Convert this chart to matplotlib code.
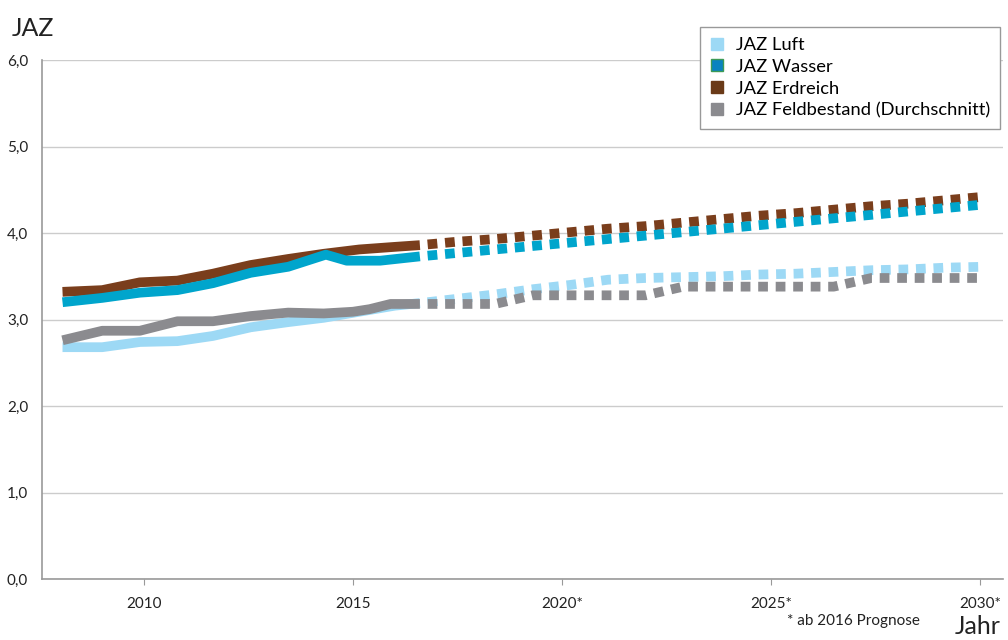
import matplotlib.pyplot as plt
from matplotlib.lines import Line2D

plt.rcParams['font.family'] = ['Lato', 'DejaVu Sans']

# measured data (JAZ = Jahresarbeitszahl)
years_hist = [2008.05, 2009.0, 2009.9, 2010.8, 2011.65, 2012.55, 2013.45, 2014.3, 2015.15, 2016.0, 2016.6]
years_blue_hist = [2008.05, 2009.0, 2009.9, 2010.8, 2011.65, 2012.55, 2013.45, 2014.35, 2014.85, 2015.65, 2016.6]
years_gray_hist = [2008.05, 2009.0, 2009.9, 2010.8, 2011.65, 2012.55, 2013.45, 2014.3, 2015.0, 2015.4, 2015.9, 2016.6]
years_prog = [2016.6, 2017.5, 2018.4, 2019.3, 2020.2, 2021.1, 2022.0, 2022.9, 2023.8,
              2024.7, 2025.6, 2026.5, 2027.4, 2028.3, 2029.2, 2030.1]

luft_hist = [2.68, 2.68, 2.74, 2.75, 2.81, 2.91, 2.97, 3.02, 3.09, 3.16, 3.19]
luft_prog = [3.19, 3.24, 3.29, 3.35, 3.40, 3.46, 3.48, 3.49, 3.50, 3.52, 3.53, 3.55, 3.57, 3.58, 3.60, 3.61]

wasser_hist = [3.20, 3.25, 3.31, 3.34, 3.42, 3.54, 3.61, 3.75, 3.68, 3.68, 3.73]
wasser_prog = [3.73, 3.77, 3.81, 3.85, 3.89, 3.93, 3.97, 4.01, 4.05, 4.09, 4.13, 4.17, 4.21, 4.25, 4.29, 4.33]

erdreich_hist = [3.32, 3.34, 3.43, 3.45, 3.53, 3.63, 3.70, 3.76, 3.81, 3.84, 3.86]
erdreich_prog = [3.86, 3.90, 3.93, 3.97, 4.01, 4.05, 4.08, 4.12, 4.16, 4.20, 4.23, 4.27, 4.31, 4.34, 4.38, 4.42]

feld_hist = [2.76, 2.87, 2.87, 2.98, 2.98, 3.04, 3.08, 3.07, 3.09, 3.12, 3.18, 3.18]
feld_prog = [3.18, 3.18, 3.18, 3.28, 3.28, 3.28, 3.28, 3.38, 3.38, 3.38, 3.38, 3.38, 3.48, 3.48, 3.48, 3.48]

xticks = [2010, 2015, 2020, 2025, 2030]
xticklabels = ['2010', '2015', '2020*', '2025*', '2030*']
yticks = [0, 1, 2, 3, 4, 5, 6]

c_luft = '#9dd9f5'
c_wasser = '#00a5cc'
c_erd = '#7a3e1c'
c_feld = '#8b8b8f'

fig = plt.figure(figsize=(10.08, 6.4), dpi=100)
ax = fig.add_axes([0.0417, 0.0953, 0.9533, 0.8109])

lw = 7.0
dash = (1.0, (1.0, 0.8))

# order: brown under blue, light blue under gray
ax.plot(years_hist, erdreich_hist, color=c_erd, lw=lw, solid_capstyle='butt', zorder=3)
ax.plot(years_prog, erdreich_prog, color=c_erd, lw=lw, ls=dash, dash_capstyle='butt', zorder=3)
ax.plot(years_blue_hist, wasser_hist, color=c_wasser, lw=lw, solid_capstyle='butt', zorder=4)
ax.plot(years_prog, wasser_prog, color=c_wasser, lw=lw, ls=dash, dash_capstyle='butt', zorder=4)
ax.plot(years_hist, luft_hist, color=c_luft, lw=lw, solid_capstyle='butt', zorder=5)
ax.plot(years_prog, luft_prog, color=c_luft, lw=lw, ls=dash, dash_capstyle='butt', zorder=5)
ax.plot(years_gray_hist, feld_hist, color=c_feld, lw=lw, solid_capstyle='butt', zorder=6)
ax.plot(years_prog, feld_prog, color=c_feld, lw=lw, ls=dash, dash_capstyle='butt', zorder=6)

ax.set_xlim(2007.56, 2030.55)
ax.set_ylim(0, 6)
ax.set_yticks(yticks)
ax.set_yticklabels([f'{v:.1f}'.replace('.', ',') for v in yticks])
ax.set_xticks(xticks)
ax.set_xticklabels(xticklabels)
ax.tick_params(axis='y', length=0, pad=10, labelsize=11, labelcolor='#222222')
ax.tick_params(axis='x', length=4, width=0.8, color='#999999', pad=9, labelsize=11,
               labelcolor='#222222')
ax.grid(axis='y', color='#cccccc', lw=1)
ax.set_axisbelow(True)
for s in ['top', 'right']:
    ax.spines[s].set_visible(False)
for s in ['left', 'bottom']:
    ax.spines[s].set_color('#999999')
    ax.spines[s].set_linewidth(1.2)

fig.text(12 / 1008, 1 - 28 / 640, 'JAZ', fontsize=18, va='center', ha='left', color='#222222')
fig.text(1001 / 1008, 1 - 626 / 640, 'Jahr', fontsize=18, va='center', ha='right', color='#222222')
fig.text(920 / 1008, 1 - 621 / 640, '* ab 2016 Prognose', fontsize=11, va='center', ha='right',
         color='#222222')

handles = [
    Line2D([], [], ls='none', marker='s', markersize=9, markerfacecolor=c_luft, markeredgecolor=c_luft),
    Line2D([], [], ls='none', marker='s', markersize=9, markerfacecolor='#0a82c0', markeredgecolor='#3d9a55'),
    Line2D([], [], ls='none', marker='s', markersize=9, markerfacecolor='#6a3a18', markeredgecolor='#6a3a18'),
    Line2D([], [], ls='none', marker='s', markersize=9, markerfacecolor=c_feld, markeredgecolor=c_feld),
]
labels = ['JAZ Luft', 'JAZ Wasser', 'JAZ Erdreich', 'JAZ Feldbestand (Durchschnitt)']
leg = fig.legend(handles, labels, loc='upper right', bbox_to_anchor=(0.992, 0.958),
                 borderaxespad=0, fontsize=13.2, frameon=True, fancybox=False,
                 edgecolor='#999999', framealpha=1, handlelength=0.8, handletextpad=0.6,
                 labelspacing=0.32, borderpad=0.55)
leg.get_frame().set_linewidth(1)

fig.savefig('out.png', dpi=100)
